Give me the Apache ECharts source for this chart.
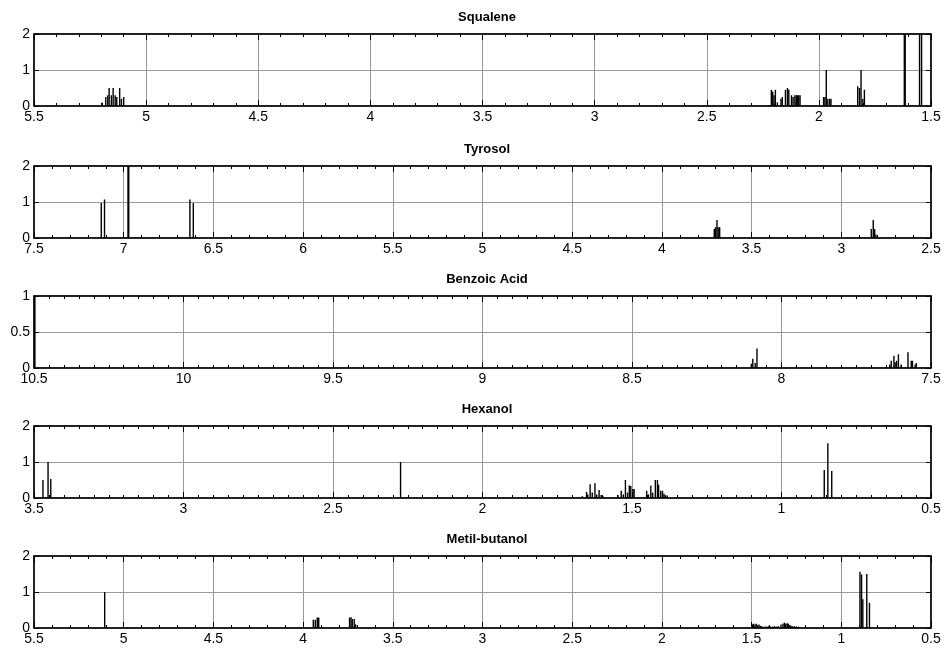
<!DOCTYPE html>
<html>
<head>
<meta charset="utf-8">
<title>NMR spectra</title>
<script src="https://cdn.jsdelivr.net/npm/echarts@6/dist/echarts.min.js"></script>
<style>
  html, body { margin: 0; padding: 0; background: #fff; }
  #result { width: 944px; height: 652px; }
</style>
</head>
<body>
<div id="result"></div>
<script>
// chemical shifts (ppm) and peak heights for each compound
var squaleneShift = [5.196, 5.180, 5.171, 5.165, 5.155, 5.147, 5.138, 5.131, 5.118, 5.110, 5.100,
    2.225, 2.218, 2.212, 2.206, 2.200, 2.194, 2.185, 2.169, 2.163, 2.149, 2.140, 2.134, 2.122, 2.115,
    2.107, 2.101, 2.096, 2.090, 2.084,
    1.979, 1.973, 1.967, 1.960, 1.952, 1.946,
    1.827, 1.819, 1.812, 1.804, 1.797,
    1.619, 1.615, 1.551, 1.542];
var squaleneInt = [0.1, 0.25, 0.3, 0.5, 0.3, 0.5, 0.3, 0.25, 0.5, 0.2, 0.25,
    0.02, 0.03, 0.45, 0.4, 0.3, 0.45, 0.1, 0.2, 0.25, 0.45, 0.5, 0.45, 0.3, 0.25,
    0.3, 0.3, 0.3, 0.3, 0.3,
    0.25, 0.25, 1.0, 0.2, 0.2, 0.2,
    0.55, 0.5, 1.0, 0.2, 0.45,
    2, 2, 2, 2];

var tyrosolShift = [7.125, 7.107, 6.976, 6.972, 6.631, 6.612,
    3.708, 3.701, 3.693, 3.686, 3.678, 2.833, 2.822, 2.814, 2.807];
var tyrosolInt = [0.97, 1.07, 2, 2, 1.07, 0.97,
    0.25, 0.3, 0.5, 0.3, 0.3, 0.25, 0.5, 0.25, 0.1];

var benzoicShift = [10.497, 8.101, 8.096, 8.088, 8.082,
    7.638, 7.633, 7.624, 7.620, 7.615, 7.609, 7.600, 7.577, 7.566, 7.562, 7.553, 7.549];
var benzoicInt = [1, 0.06, 0.13, 0.07, 0.27,
    0.05, 0.1, 0.17, 0.08, 0.1, 0.19, 0.05, 0.22, 0.1, 0.1, 0.05, 0.07];

var hexanolShift = [3.470, 3.453, 3.444, 2.274,
    1.666, 1.652, 1.648, 1.640, 1.633, 1.624, 1.618, 1.610, 1.603, 1.597,
    1.547, 1.536, 1.529, 1.522, 1.515, 1.509, 1.504, 1.497, 1.493,
    1.451, 1.445, 1.437, 1.431, 1.422, 1.415, 1.411, 1.404, 1.398, 1.393, 1.388, 1.382,
    0.857, 0.845, 0.832];
var hexanolInt = [0.5, 1.0, 0.53, 1.0,
    0.05, 0.17, 0.1, 0.38, 0.15, 0.41, 0.1, 0.22, 0.08, 0.05,
    0.08, 0.2, 0.1, 0.5, 0.15, 0.35, 0.33, 0.25, 0.25,
    0.2, 0.1, 0.35, 0.15, 0.5, 0.5, 0.37, 0.2, 0.2, 0.12, 0.08, 0.07,
    0.78, 1.52, 0.75];

var metilShift = [5.106, 3.943, 3.932, 3.921, 3.913,
    3.741, 3.733, 3.726, 3.715, 3.707,
    1.496, 1.489, 1.481, 1.474, 1.466, 1.459, 1.451, 1.444, 1.429, 1.418, 1.407, 1.396,
    1.384, 1.373, 1.362, 1.351, 1.336, 1.325, 1.317, 1.310, 1.302, 1.295, 1.287, 1.280,
    1.272, 1.261, 1.250, 1.239,
    0.896, 0.887, 0.880, 0.858, 0.843];
var metilInt = [1.0, 0.23, 0.23, 0.29, 0.29,
    0.29, 0.3, 0.25, 0.25, 0.1,
    0.1, 0.12, 0.1, 0.12, 0.08, 0.1, 0.06, 0.05, 0.04, 0.04, 0.05, 0.04,
    0.04, 0.05, 0.04, 0.05, 0.1, 0.12, 0.15, 0.12, 0.13, 0.12, 0.08, 0.06,
    0.05, 0.05, 0.04, 0.04,
    1.56, 1.49, 0.8, 1.5, 0.7];

var titles = ['Squalene', 'Tyrosol', 'Benzoic Acid', 'Hexanol', 'Metil-butanol'];
var xMax = [5.5, 7.5, 10.5, 3.5, 5.5];
var xMin = [1.5, 2.5, 7.5, 0.5, 0.5];
var yMax = [2, 2, 1, 2, 2];
var yStep = [1, 1, 0.5, 1, 1];
var minorSplit = [5, 5, 10, 10, 5];
var shifts = [squaleneShift, tyrosolShift, benzoicShift, hexanolShift, metilShift];
var heights = [squaleneInt, tyrosolInt, benzoicInt, hexanolInt, metilInt];

var FONT = 'Liberation Sans, Arial, sans-serif';
var gridTops = [34, 166, 296, 426, 556];
var gridH = 72;

function renderStick(params, api){
    var base = api.coord([api.value(0), 0]);
    var top = api.coord([api.value(0), api.value(1)]);
    return {
        type: 'line',
        shape: {x1: base[0], y1: base[1], x2: top[0], y2: top[1]},
        style: {stroke: '#000', lineWidth: 1.4}
    };
}

var grids = [], xAxes = [], yAxes = [], series = [], titleList = [];

for(var i = 0; i < titles.length; i++){
    grids.push({
        left: 34, width: 897, top: gridTops[i], height: gridH,
        show: true, borderColor: '#000', borderWidth: 1, backgroundColor: '#fff'
    });
    titleList.push({
        text: titles[i], left: 482, top: gridTops[i] - 28, textAlign: 'center',
        textStyle: {fontFamily: FONT, fontSize: 13, fontWeight: 'bold', color: '#000'}
    });

    // bottom axis with labels and grid
    xAxes.push({
        type: 'value', gridIndex: i, position: 'bottom', inverse: true,
        min: xMin[i], max: xMax[i], interval: 0.5,
        axisLine: {show: true, onZero: false, lineStyle: {color: '#000', width: 1.5}},
        axisTick: {show: true, inside: true, length: 6, lineStyle: {color: '#000'}},
        minorTick: {show: true, splitNumber: minorSplit[i], length: 3, lineStyle: {color: '#000'}},
        axisLabel: {show: true, showMinLabel: true, showMaxLabel: true, color: '#000',
            fontFamily: FONT, fontSize: 14, margin: 4},
        splitLine: {show: true, lineStyle: {color: '#9a9a9a', width: 1}}
    });
    // top axis, ticks only
    xAxes.push({
        type: 'value', gridIndex: i, position: 'top', inverse: true,
        min: xMin[i], max: xMax[i], interval: 0.5,
        axisLine: {show: true, onZero: false, lineStyle: {color: '#000', width: 1.5}},
        axisTick: {show: true, inside: true, length: 6, lineStyle: {color: '#000'}},
        minorTick: {show: true, splitNumber: minorSplit[i], length: 3, lineStyle: {color: '#000'}},
        axisLabel: {show: false},
        splitLine: {show: false}
    });
    yAxes.push({
        type: 'value', gridIndex: i, position: 'left',
        min: 0, max: yMax[i], interval: yStep[i],
        axisLine: {show: true, onZero: false, lineStyle: {color: '#000', width: 1.5}},
        axisTick: {show: true, inside: true, length: 5, lineStyle: {color: '#000'}},
        axisLabel: {show: true, showMinLabel: true, showMaxLabel: true, color: '#000',
            fontFamily: FONT, fontSize: 14, margin: 4},
        splitLine: {show: true, lineStyle: {color: '#9a9a9a', width: 1}}
    });
    yAxes.push({
        type: 'value', gridIndex: i, position: 'right',
        min: 0, max: yMax[i], interval: yStep[i],
        axisLine: {show: true, onZero: false, lineStyle: {color: '#000', width: 1.5}},
        axisTick: {show: true, inside: true, length: 5, lineStyle: {color: '#000'}},
        axisLabel: {show: false},
        splitLine: {show: false}
    });

    var pts = [];
    for(var k = 0; k < shifts[i].length; k++){
        pts.push([shifts[i][k], heights[i][k]]);
    }
    series.push({
        type: 'custom', name: titles[i],
        xAxisIndex: 2 * i, yAxisIndex: 2 * i,
        data: pts, clip: true, silent: true,
        encode: {x: 0, y: 1},
        renderItem: renderStick
    });
}

var myChart = echarts.init(document.getElementById('result'), null, {renderer: 'canvas'});
var option = {
    backgroundColor: '#fff',
    animation: false,
    title: titleList,
    grid: grids,
    xAxis: xAxes,
    yAxis: yAxes,
    series: series
};
myChart.setOption(option);
</script>
</body>
</html>
